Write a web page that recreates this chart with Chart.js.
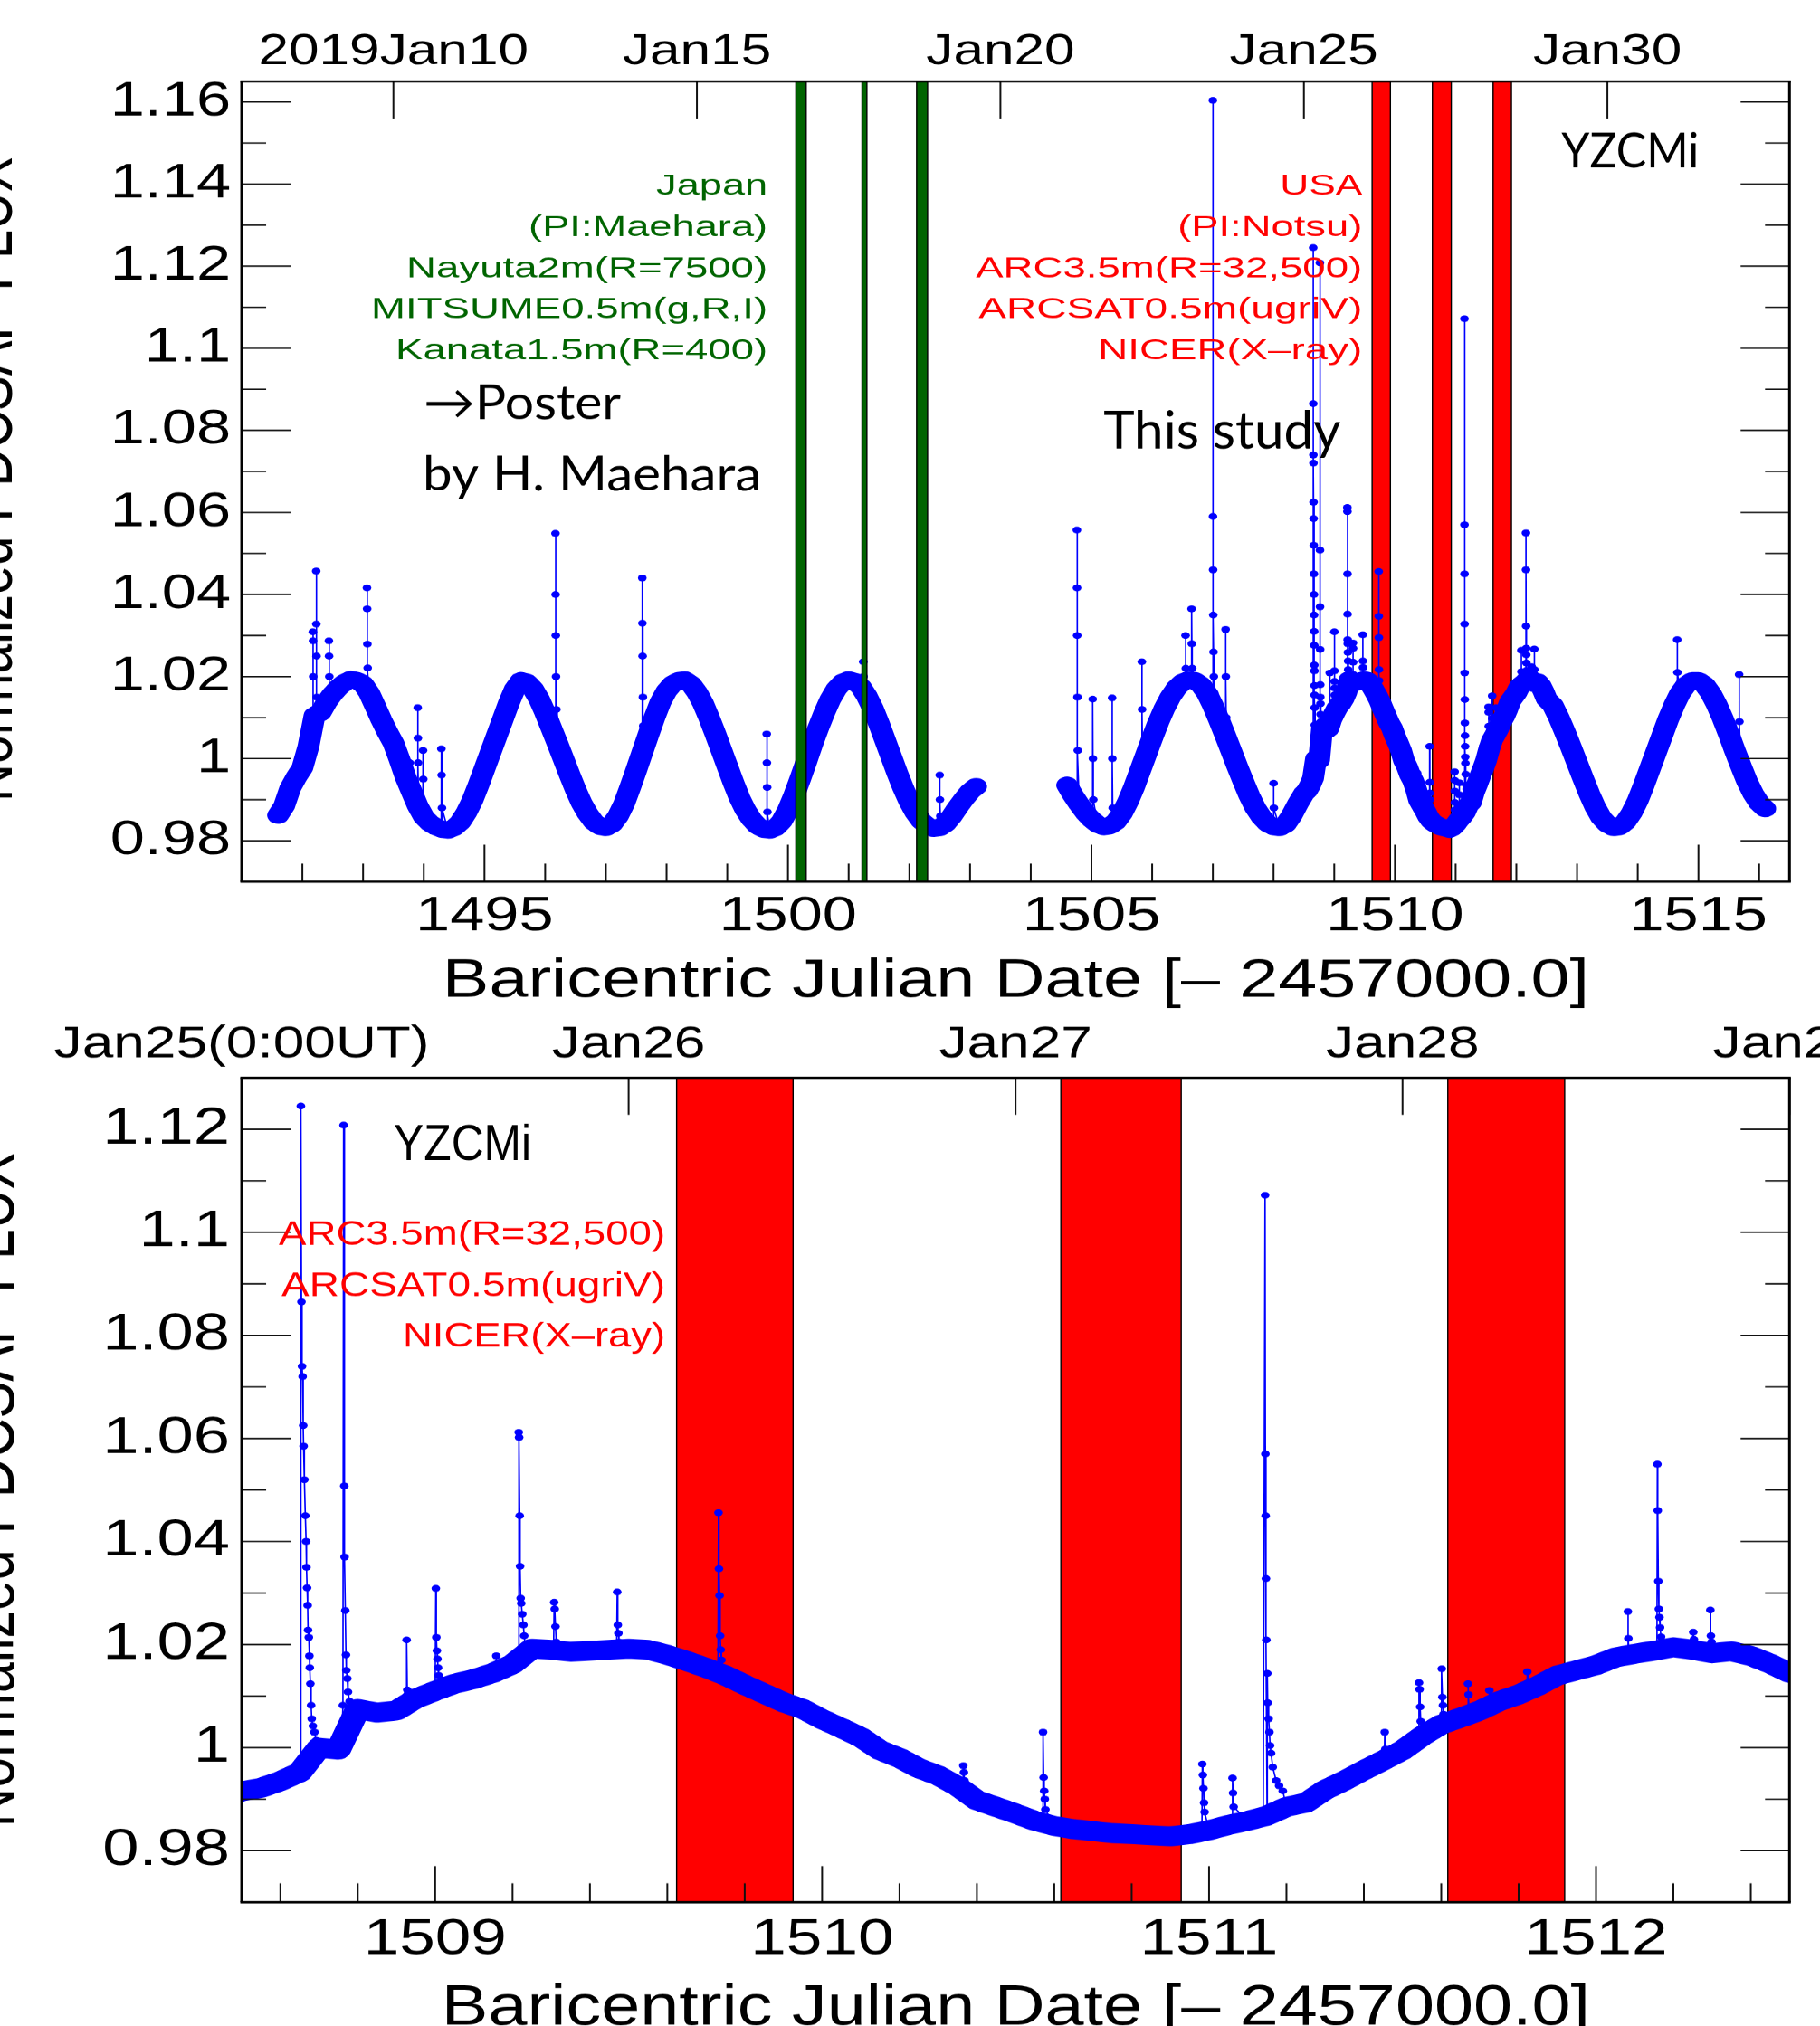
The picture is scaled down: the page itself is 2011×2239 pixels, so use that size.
<!DOCTYPE html>
<html>
<head>
<meta charset="utf-8">
<title>YZ CMi TESS light curve</title>
<script src="https://cdn.jsdelivr.net/npm/chart.js@4.4.1/dist/chart.umd.min.js"></script>
<style>
html,body{margin:0;padding:0;background:#ffffff;}
body{width:2011px;height:2239px;overflow:hidden;position:relative;}
.panel{position:absolute;left:0;width:1584px;transform-origin:0 0;}
.panel canvas{display:block;}
</style>
</head>
<body>
<div class="panel" id="p1" style="top:0px;height:1122px;"><canvas id="c1" width="1584" height="1122"></canvas></div>
<div class="panel" id="p2" style="top:1122px;height:1117px;"><canvas id="c2" width="1584" height="1117"></canvas></div>
<script>
// ================= DATA =================
// Quiescent light curve, segment A (BJD-2457000 from 1491.6, every 0.1 d)
const quietA_start = 1491.6;
const quietA = [
 0.9862,0.9885,0.9928,0.9955,0.9978,1.0030,1.0105,1.0112,1.0138,1.0158,
 1.0174,1.0186,1.0193,1.0190,1.0182,1.0160,1.0128,1.0095,1.0065,1.0038,
 0.9998,0.9955,0.9920,0.9885,0.9858,0.9843,0.9834,0.9828,0.9826,0.9832,
 0.9845,0.9868,0.9898,0.9935,0.9975,1.0015,1.0055,1.0095,1.0135,1.0170,
 1.0190,1.0186,1.0170,1.0145,1.0112,1.0075,1.0038,1.0000,0.9962,0.9925,
 0.9892,0.9866,0.9846,0.9835,0.9832,0.9840,0.9860,0.9890,0.9930,0.9972,
 1.0015,1.0058,1.0100,1.0138,1.0165,1.0182,1.0190,1.0192,1.0182,1.0162,
 1.0135,1.0100,1.0062,1.0022,0.9982,0.9942,0.9905,0.9875,0.9852,0.9836,
 0.9828,0.9826,0.9832,0.9848,0.9875,0.9910,0.9950,0.9992,1.0035,1.0075,
 1.0112,1.0145,1.0170,1.0186,1.0192,1.0188,1.0175,1.0152,1.0122,1.0085,
 1.0045,1.0005,0.9965,0.9928,0.9895,0.9868,0.9848,0.9836,0.9830,0.9832,
 0.9842,0.9860,0.9882,0.9902,0.9920,0.9932
];
// segment B (from 1504.6, every 0.1 d)
const quietB_start = 1504.6;
const quietB = [
 0.9935,0.9910,0.9888,0.9868,0.9852,0.9840,0.9834,0.9836,0.9846,0.9866,
 0.9895,0.9930,0.9970,1.0010,1.0050,1.0088,1.0122,1.0150,1.0172,1.0186,
 1.0192,1.0190,1.0180,1.0160,1.0130,1.0095,1.0058,1.0020,0.9982,0.9945,
 0.9910,0.9880,0.9858,0.9842,0.9834,0.9832,0.9840,0.9862,0.9890
];
// segment C (zoomed window, from 1508.5, every 0.05 d)
const quietC_start = 1508.5;
const quietC = [
 0.9915,0.9922,0.9935,0.9952,1.0000,0.9996,1.0075,1.0068,1.0072,1.0095,
 1.0110,1.0124,1.0133,1.0145,1.0162,1.0192,1.0190,1.0186,1.0188,1.0190,
 1.0192,1.0190,1.0180,1.0168,1.0155,1.0140,1.0122,1.0105,1.0088,1.0075,
 1.0055,1.0038,1.0020,0.9995,0.9980,0.9960,0.9946,0.9925,0.9898,0.9885,
 0.9872,0.9858,0.9848,0.9842,0.9838,0.9834,0.9832,0.9830,0.9828,0.9832,
 0.9840,0.9850,0.9858,0.9868,0.9885,0.9893,0.9918,0.9936,0.9956,0.9975,
 0.9995,1.0022,1.0045,1.0058,1.0072,1.0090,1.0103,1.0120,1.0140,1.0150,
 1.0160,1.0175,1.0182,1.0188,1.0195,1.0190,1.0183,1.0187,1.0178,1.0163,
 1.0145
];
// segment D (from 1512.6, every 0.1 d)
const quietD_start = 1512.6;
const quietD = [
 1.0130,1.0100,1.0065,1.0028,0.9990,0.9952,0.9915,0.9882,0.9856,0.9840,
 0.9832,0.9834,0.9846,0.9868,0.9898,0.9935,0.9975,1.0015,1.0055,1.0095,
 1.0130,1.0160,1.0180,1.0190,1.0190,1.0180,1.0160,1.0132,1.0098,1.0060,
 1.0020,0.9982,0.9945,0.9915,0.9892,0.9878
];
const coarseStep = 0.1, fineStep = 0.05;
const gapTime = 1503.85;   // data gap between the two TESS orbits

// Flares: times (BJD-2457000) and normalized flux, one row per flare
const flareTimes = [
 [1492.170,1492.172,1492.175,1492.178,1492.182],
 [1492.226,1492.228,1492.230,1492.233,1492.238],
 [1492.435,1492.437,1492.440,1492.444,1492.450],
 [1493.062,1493.064,1493.067,1493.071,1493.076],
 [1493.765,1493.768,1493.772],
 [1493.898,1493.900,1493.903,1493.907,1493.912],
 [1493.985,1493.988,1493.992],
 [1494.288,1494.290,1494.294,1494.300],
 [1496.168,1496.170,1496.172,1496.175,1496.179,1496.185],
 [1497.598,1497.600,1497.602,1497.605,1497.610,1497.616],
 [1499.648,1499.650,1499.653,1499.657,1499.662],
 [1501.238,1501.240,1501.244],
 [1502.498,1502.500,1502.504,1502.510],
 [1504.758,1504.760,1504.762,1504.765,1504.769,1504.775],
 [1505.018,1505.020,1505.024,1505.030],
 [1505.338,1505.340,1505.344,1505.350],
 [1505.828,1505.830,1505.834,1505.840],
 [1506.548,1506.550,1506.555],
 [1506.648,1506.650,1506.654,1506.660],
 [1506.998,1507.000,1507.002,1507.004,1507.007,1507.011,1507.016,1507.023],
 [1507.208,1507.210,1507.214,1507.220],
 [1507.998,1508.000,1508.005],
 [1508.6516,1508.6530,1508.6545,1508.6560,1508.6575,1508.6590,1508.6600,1508.6620,1508.6645,1508.6665,1508.6675,1508.6690,1508.6705,1508.6715,1508.6735,1508.6750,1508.6760,1508.6775,1508.6795,1508.6810,1508.6840,1508.6880,1508.6925],
 [1508.7574,1508.7617,1508.7634,1508.7652,1508.7660,1508.7678,1508.7695,1508.7704,1508.7730,1508.7747,1508.7790,1508.7834],
 [1508.925,1508.9263,1508.928,1508.930],
 [1509.000,1509.0017,1509.003,1509.0045,1509.006,1509.0075,1509.009],
 [1509.157,1509.158,1509.160],
 [1509.215,1509.216,1509.217,1509.2185,1509.2195,1509.221,1509.2225,1509.225,1509.228,1509.230,1509.234],
 [1509.306,1509.3076,1509.309,1509.311,1509.313],
 [1509.469,1509.4705,1509.472,1509.4735,1509.475],
 [1509.731,1509.7322,1509.7335,1509.735,1509.7365,1509.738,1509.740],
 [1510.364,1510.365,1510.3665,1510.368,1510.3695],
 [1510.570,1510.571,1510.5725,1510.574,1510.5755,1510.577],
 [1510.9815,1510.9827,1510.984,1510.9855,1510.987,1510.9885],
 [1511.0595,1511.0607,1511.062,1511.0635],
 [1511.140,1511.1447,1511.1455,1511.1462,1511.1470,1511.1480,1511.1505,1511.1515,1511.1540,1511.1560,1511.1577,1511.1603,1511.1646,1511.1733,1511.1810,1511.1906],
 [1511.453,1511.454,1511.4555,1511.457],
 [1511.5415,1511.5425,1511.544,1511.5455,1511.547,1511.549],
 [1511.600,1511.6014,1511.603,1511.6045,1511.606],
 [1511.668,1511.669,1511.6705,1511.672],
 [1511.7235,1511.7244,1511.726],
 [1511.8215,1511.8224,1511.824],
 [1512.0815,1512.0823,1512.0835,1512.085],
 [1512.1575,1512.1586,1512.1595,1512.161,1512.1625,1512.164,1512.1655,1512.168,1512.171],
 [1512.2505,1512.2513,1512.253],
 [1512.2945,1512.2955,1512.297,1512.2985],
 [1514.648,1514.650,1514.655],
 [1515.668,1515.670,1515.675]
];
const flareFlux = [
 [1.0080,1.0309,1.0287,1.0200,1.0120],
 [1.0110,1.0457,1.0328,1.0250,1.0150],
 [1.0145,1.0287,1.0250,1.0200,1.0165],
 [1.0180,1.0416,1.0365,1.0279,1.0221],
 [0.9930,0.9990,0.9950],
 [0.9880,1.0124,1.0050,0.9990,0.9920],
 [0.9860,1.0020,0.9950],
 [0.9828,1.0024,0.9960,0.9880],
 [1.0050,1.0549,1.0400,1.0300,1.0200,1.0120],
 [1.0012,1.0440,1.0330,1.0250,1.0150,1.0080],
 [0.9828,1.0060,0.9990,0.9930,0.9870],
 [1.0170,1.0236,1.0200],
 [0.9832,0.9960,0.9900,0.9860],
 [0.9905,1.0557,1.0416,1.0300,1.0150,1.0020],
 [0.9852,1.0145,1.0000,0.9900],
 [0.9838,1.0148,1.0000,0.9880],
 [0.9982,1.0236,1.0120,1.0030],
 [1.0189,1.0300,1.0220],
 [1.0191,1.0365,1.0280,1.0220],
 [1.0132,1.1604,1.0590,1.0460,1.0350,1.0260,1.0200,1.0160],
 [1.0060,1.0315,1.0200,1.0100],
 [0.9834,0.9940,0.9880],
 [0.9962,1.1245,1.0865,1.0740,1.0720,1.0625,1.0585,1.0520,1.0450,1.0400,1.0350,1.0310,1.0276,1.0228,1.0214,1.0178,1.0155,1.0124,1.0082,1.0056,1.0042,1.0030,1.0014],
 [0.9994,1.0082,1.1208,1.0508,1.0370,1.0266,1.0180,1.0150,1.0134,1.0108,1.0090,1.0060],
 [1.0100,1.0209,1.0112,1.0105],
 [1.0112,1.0309,1.0214,1.0188,1.0172,1.0155,1.0140],
 [1.0145,1.0178,1.0150],
 [1.0175,1.0612,1.0602,1.0450,1.0352,1.0290,1.0280,1.0259,1.0238,1.0217,1.0191],
 [1.0190,1.0282,1.0269,1.0235,1.0205],
 [1.0190,1.0302,1.0238,1.0222,1.0205],
 [1.0150,1.0456,1.0347,1.0295,1.0217,1.0190,1.0170],
 [0.9915,0.9965,0.9952,0.9936,0.9916],
 [0.9850,1.0030,0.9942,0.9916,0.9900,0.9880],
 [0.9835,0.9968,0.9947,0.9921,0.9893,0.9875],
 [0.9852,0.9941,0.9912,0.9885],
 [0.9868,1.1072,1.0570,1.0450,1.0328,1.0209,1.0144,1.0087,1.0056,1.0030,1.0004,0.9989,0.9962,0.9936,0.9926,0.9916],
 [0.9975,1.0030,0.9997,0.9982],
 [1.0020,1.0126,1.0113,1.0079,1.0051,1.0035],
 [1.0035,1.0153,1.0098,1.0082,1.0065],
 [1.0060,1.0124,1.0103,1.0075],
 [1.0080,1.0111,1.0090],
 [1.0110,1.0147,1.0125],
 [1.0178,1.0264,1.0212,1.0190],
 [1.0188,1.0550,1.0460,1.0323,1.0269,1.0253,1.0233,1.0215,1.0205],
 [1.0190,1.0224,1.0210],
 [1.0183,1.0267,1.0217,1.0205],
 [1.0145,1.0290,1.0210],
 [0.9995,1.0205,1.0090]
];

// Observation windows
const japanWindows = [[1500.13,1500.30],[1501.22,1501.30],[1502.12,1502.30]];
const usaWindows   = [[1509.624,1509.925],[1510.617,1510.928],[1511.617,1511.919]];

// Axes / tick labels
const topXTicks = [1495,1500,1505,1510,1515];
const topXLabels = ['1495','1500','1505','1510','1515'];
const topYTicks = [0.98,1.00,1.02,1.04,1.06,1.08,1.10,1.12,1.14,1.16];
const topYLabels = ['0.98','1','1.02','1.04','1.06','1.08','1.1','1.12','1.14','1.16'];
const topDateTicks = [1493.5,1498.5,1503.5,1508.5,1513.5];
const topDateLabels = ['2019Jan10','Jan15','Jan20','Jan25','Jan30'];
const botXTicks = [1509,1510,1511,1512];
const botXLabels = ['1509','1510','1511','1512'];
const botYTicks = [0.98,1.00,1.02,1.04,1.06,1.08,1.10,1.12];
const botYLabels = ['0.98','1','1.02','1.04','1.06','1.08','1.1','1.12'];
const botDateTicks = [1508.5,1509.5,1510.5,1511.5,1512.5];
const botDateLabels = ['Jan25(0:00UT)','Jan26','Jan27','Jan28','Jan29'];
const xTitle = 'Baricentric Julian Date [\u2013 2457000.0]';
const yTitle = 'Normalized PDCSAP FLUX';

// ================= RENDERING =================
const S = 2011 / 1584;            // horizontal stretch of the original figure
const DPR = 2011.3 / 1584;
const FONT = "'Liberation Sans', Arial, Helvetica, sans-serif";
const PPT = "Lato, 'Open Sans', sans-serif";
const BLUE = '#0000ff', RED = '#ff0000', GREEN = '#006400';
document.getElementById('p1').style.transform = 'scaleX(' + S + ')';
document.getElementById('p2').style.transform = 'scaleX(' + S + ')';

function series(start, step, vals) {
  return vals.map((v, i) => ({ x: Math.round((start + i * step) * 10000) / 10000, y: v }));
}
const quietPts = [].concat(
  series(quietA_start, coarseStep, quietA), [{ x: gapTime, y: null }],
  series(quietB_start, coarseStep, quietB),
  series(quietC_start, fineStep, quietC),
  series(quietD_start, coarseStep, quietD));
const flarePts = [];
flareTimes.forEach((ts, k) => ts.forEach((t, j) => flarePts.push({ x: t, y: flareFlux[k][j] })));
const allPts = quietPts.concat(flarePts).sort((a, b) => a.x - b.x);
const inWin = p => p.x >= 1508.4 && p.x <= 1512.6;

function fitText(ctx, t) {
  ctx.save();
  const size = t.cap / 0.716;
  ctx.font = size + 'px ' + (t.font || FONT);
  const w = ctx.measureText(t.s).width;
  const fx = t.w / (w * S);
  ctx.translate(t.x / S, t.y);
  ctx.scale(fx, 1);
  ctx.fillStyle = t.color || '#000';
  ctx.textAlign = t.align || 'left';
  ctx.textBaseline = 'alphabetic';
  ctx.fillText(t.s, 0, 0);
  ctx.restore();
}
function vText(ctx, t) {
  ctx.save();
  ctx.font = t.size + 'px ' + FONT;
  ctx.fillStyle = '#000';
  ctx.textAlign = 'center';
  ctx.textBaseline = 'alphabetic';
  ctx.translate(t.x / S, t.y);
  ctx.rotate(-Math.PI / 2);
  ctx.fillText(t.s, 0, 0);
  ctx.restore();
}
function paintBands(ctx, a, xs, b) {
  b.ranges.forEach(([s0, e0]) => {
    const x1 = xs.getPixelForValue(s0), x2 = xs.getPixelForValue(e0);
    ctx.fillStyle = b.color;
    ctx.fillRect(x1, a.top, x2 - x1, a.bottom - a.top);
    ctx.strokeStyle = '#000';
    ctx.lineWidth = 1.4 / S;
    ctx.beginPath();
    ctx.moveTo(x1, a.top); ctx.lineTo(x1, a.bottom);
    ctx.moveTo(x2, a.top); ctx.lineTo(x2, a.bottom);
    ctx.stroke();
  });
}
function makeDecor(o) {
  return {
    id: 'decor' + o.id,
    beforeDatasetsDraw(chart) {
      const ctx = chart.ctx;
      ctx.save();
      o.under.forEach(b => paintBands(ctx, chart.chartArea, chart.scales.x, b));
      ctx.restore();
    },
    afterDatasetsDraw(chart) {
      const ctx = chart.ctx, a = chart.chartArea, xs = chart.scales.x, ys = chart.scales.y;
      ctx.save();
      o.over.forEach(b => paintBands(ctx, a, xs, b));
      ctx.strokeStyle = '#111';
      ctx.lineCap = 'butt';
      const h = (x1, x2, y) => { ctx.beginPath(); ctx.moveTo(x1, y); ctx.lineTo(x2, y); ctx.stroke(); };
      const v = (x, y1, y2) => { ctx.beginPath(); ctx.moveTo(x, y1); ctx.lineTo(x, y2); ctx.stroke(); };
      ctx.lineWidth = 1.6;
      o.yMajor.forEach(val => { const p = ys.getPixelForValue(val); h(a.left, a.left + 54 / S, p); h(a.right - 54 / S, a.right, p); });
      o.yMinor.forEach(val => { const p = ys.getPixelForValue(val); h(a.left, a.left + 27 / S, p); h(a.right - 27 / S, a.right, p); });
      ctx.lineWidth = 2 / S;
      o.xMajor.forEach(val => { const p = xs.getPixelForValue(val); v(p, a.bottom - o.xMajLen, a.bottom); });
      o.xMinor.forEach(val => { const p = xs.getPixelForValue(val); v(p, a.bottom - o.xMinLen, a.bottom); });
      o.dateTicks.forEach(val => { const p = xs.getPixelForValue(val); v(p, a.top, a.top + o.dateLen); });
      ctx.strokeStyle = '#000';
      ctx.lineWidth = 2.4;
      h(a.left - 1.5 / S, a.right + 1.5 / S, a.top);
      h(a.left - 1.5 / S, a.right + 1.5 / S, a.bottom);
      ctx.lineWidth = 3 / S;
      v(a.left, a.top, a.bottom);
      v(a.right, a.top, a.bottom);
      ctx.restore();
    },
    afterDraw(chart) {
      const ctx = chart.ctx;
      o.texts.forEach(t => fitText(ctx, t));
      vText(ctx, o.vtitle);
    }
  };
}
function tickAxis(pos, min, max, ticks, labels, size, pad, afterFit) {
  return {
    type: 'linear', position: pos, min: min, max: max,
    grid: { display: false, drawTicks: false }, border: { display: false },
    afterBuildTicks: s => { s.ticks = ticks.map(v => ({ value: v })); },
    ticks: { autoSkip: false, maxRotation: 0, minRotation: 0, color: '#000', padding: pad,
             font: { family: FONT, size: size, lineHeight: 1 }, callback: (v, i) => labels[i] },
    afterFit: afterFit
  };
}
function buildChart(id, c) {
  return new Chart(document.getElementById(id), {
    type: 'line',
    data: { datasets: [
      { data: c.points, borderColor: BLUE, backgroundColor: BLUE, borderWidth: 1.3, pointRadius: c.r,
        pointBackgroundColor: BLUE, pointBorderWidth: 0, tension: 0, order: 1, spanGaps: false, clip: 0 },
      { data: c.band, borderColor: BLUE, borderWidth: c.bandW, pointRadius: 0, tension: 0, order: 2,
        spanGaps: false, clip: 0, borderJoinStyle: 'round', borderCapStyle: 'round' }
    ]},
    options: {
      responsive: false, animation: false, events: [], devicePixelRatio: DPR,
      layout: { autoPadding: false, padding: { left: 0, top: 0, bottom: 0, right: 1584 - 1977 / S } },
      plugins: { legend: { display: false }, tooltip: { enabled: false } },
      scales: {
        x: tickAxis('bottom', c.xmin, c.xmax, c.xTicks, c.xLabels, c.xSize, c.xPad,
                    s => { s.height = c.xH; s.paddingLeft = 0; s.paddingRight = 0; }),
        xTop: tickAxis('top', c.xmin, c.xmax, c.dTicks, c.dLabels, c.dSize, c.dPad,
                    s => { s.height = c.topH; s.paddingLeft = 0; s.paddingRight = 0; }),
        y: tickAxis('left', c.ymin, c.ymax, c.yTicks, c.yLabels, c.ySize, c.yPad,
                    s => { s.width = 267 / S; s.paddingTop = 0; s.paddingBottom = 0; })
      }
    },
    plugins: [makeDecor(c.decor)]
  });
}

// minor ticks
const topYMinor = [], botYMinor = [], topXMinor = [], botXMinor = [];
for (let k = 0; k < 9; k++) topYMinor.push(0.99 + 0.02 * k);
for (let k = 0; k < 7; k++) botYMinor.push(0.99 + 0.02 * k);
for (let d = 1492; d <= 1516; d++) if (d % 5) topXMinor.push(d);
for (let k = 0; k < 20; k++) { const v = Math.round((1508.6 + 0.2 * k) * 10) / 10; if (Math.abs(v - Math.round(v)) > 1e-6) botXMinor.push(v); }

buildChart('c1', {
  points: allPts, band: quietPts, r: 3.8, bandW: 19,
  xmin: 1491, xmax: 1516.5, ymin: 0.97, ymax: 1.165,
  xTicks: topXTicks, xLabels: topXLabels, xSize: 54, xPad: 11.5, xH: 1122 - 974,
  dTicks: topDateTicks, dLabels: topDateLabels, dSize: 47.5, dPad: 8.75, topH: 90,
  yTicks: topYTicks, yLabels: topYLabels, ySize: 54, yPad: 9.4,
  decor: {
    id: 'Top',
    under: [{ color: RED, ranges: usaWindows }],
    over: [{ color: GREEN, ranges: japanWindows }],
    yMajor: topYTicks, yMinor: topYMinor, xMajor: topXTicks, xMinor: topXMinor,
    xMajLen: 41, xMinLen: 20, dateTicks: topDateTicks, dateLen: 41,
    texts: [
      { s: 'Japan', x: 848, y: 215, cap: 23, w: 123, color: GREEN, align: 'right' },
      { s: '(PI:Maehara)', x: 848, y: 260.7, cap: 23, w: 264, color: GREEN, align: 'right' },
      { s: 'Nayuta2m(R=7500)', x: 848, y: 306, cap: 23, w: 399, color: GREEN, align: 'right' },
      { s: 'MITSUME0.5m(g,R,I)', x: 848, y: 351.3, cap: 23, w: 438, color: GREEN, align: 'right' },
      { s: 'Kanata1.5m(R=400)', x: 848, y: 396.7, cap: 23, w: 411, color: GREEN, align: 'right' },
      { s: 'USA', x: 1505, y: 215, cap: 23, w: 91, color: RED, align: 'right' },
      { s: '(PI:Notsu)', x: 1505, y: 260.7, cap: 23, w: 204, color: RED, align: 'right' },
      { s: 'ARC3.5m(R=32,500)', x: 1505, y: 306, cap: 23, w: 427, color: RED, align: 'right' },
      { s: 'ARCSAT0.5m(ugriV)', x: 1505, y: 351.3, cap: 23, w: 424, color: RED, align: 'right' },
      { s: 'NICER(X\u2013ray)', x: 1505, y: 396.7, cap: 23, w: 292, color: RED, align: 'right' },
      { s: '\u2192Poster', x: 468, y: 463.3, cap: 38, w: 218, font: PPT },
      { s: 'by H. Maehara', x: 467, y: 541.7, cap: 38, w: 374, font: PPT },
      { s: 'This study', x: 1219, y: 495, cap: 41, w: 262, font: PPT },
      { s: 'YZCMi', x: 1725, y: 185, cap: 38.3, w: 152, font: PPT },
      { s: xTitle, x: 1122.3, y: 1100.7, cap: 42.4, w: 1267, align: 'center' }
    ],
    vtitle: { s: yTitle, x: 13, y: 529.5, size: 58 }
  }
});

buildChart('c2', {
  points: allPts.filter(inWin), band: quietPts.filter(inWin), r: 3.8, bandW: 22,
  xmin: 1508.5, xmax: 1512.5, ymin: 0.97, ymax: 1.13,
  xTicks: botXTicks, xLabels: botXLabels, xSize: 56, xPad: 14, xH: 1117 - 980,
  dTicks: botDateTicks, dLabels: botDateLabels, dSize: 49, dPad: 11.5, topH: 69,
  yTicks: botYTicks, yLabels: botYLabels, ySize: 57, yPad: 10.2,
  decor: {
    id: 'Bottom',
    under: [{ color: RED, ranges: usaWindows }],
    over: [],
    yMajor: botYTicks, yMinor: botYMinor, xMajor: botXTicks, xMinor: botXMinor,
    xMajLen: 40, xMinLen: 21, dateTicks: botDateTicks, dateLen: 41,
    texts: [
      { s: 'YZCMi', x: 435, y: 160, cap: 39.7, w: 152 },
      { s: 'ARC3.5m(R=32,500)', x: 735, y: 253.7, cap: 26.7, w: 427, color: RED, align: 'right' },
      { s: 'ARCSAT0.5m(ugriV)', x: 735, y: 310, cap: 26.7, w: 424, color: RED, align: 'right' },
      { s: 'NICER(X\u2013ray)', x: 735, y: 366.4, cap: 26.7, w: 290, color: RED, align: 'right' },
      { s: xTitle, x: 1122.3, y: 1115, cap: 45, w: 1269, align: 'center' }
    ],
    vtitle: { s: yTitle, x: 15, y: 524.5, size: 60.7 }
  }
});
</script>
</body>
</html>
